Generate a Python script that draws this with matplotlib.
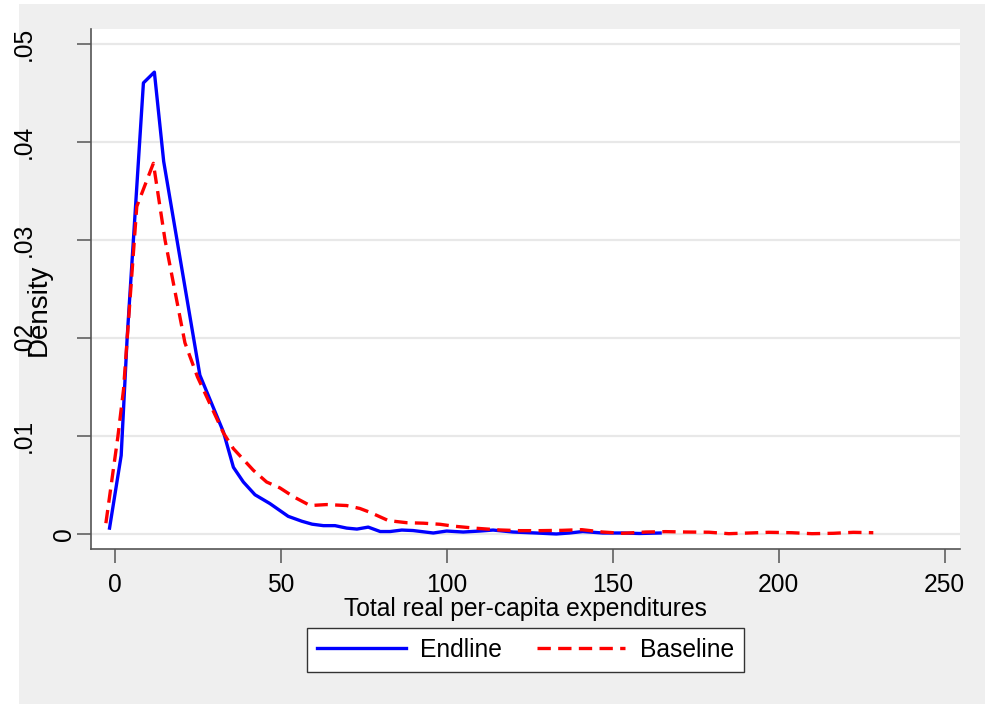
import matplotlib
matplotlib.use("Agg")
import matplotlib.pyplot as plt
from matplotlib.patches import Rectangle

plt.rcParams['font.family'] = ['Liberation Sans', 'DejaVu Sans']

# kernel density estimates
endline_x = [-1.5, 2.0, 3.8, 8.7, 12.0, 14.8, 25.7, 32.8, 35.8, 38.8, 42.3, 46.8,
             52.3, 56.4, 59.5, 62.9, 66.4, 69.9, 73.0, 76.4, 80.0, 83.0, 86.5,
             89.9, 96.0, 100.0, 105.0, 110.0, 114.0, 120.0, 127.0, 133.0, 137.0,
             141.0, 147.0, 153.0, 158.0, 164.3]
endline_y = [0.0006, 0.0080, 0.0200, 0.0460, 0.0471, 0.0380, 0.0162, 0.0104, 0.0068,
             0.0053, 0.0040, 0.0031, 0.0018, 0.0013, 0.0010, 0.00085, 0.00085,
             0.0006, 0.0005, 0.0007, 0.00025, 0.00025, 0.0004, 0.00035, 0.0001,
             0.0003, 0.0002, 0.0003, 0.0004, 0.0002, 0.0001, 0.0, 0.0001, 0.00025,
             0.0001, 0.0001, 0.00005, 0.0001]

baseline_x = [-2.6, 1.0, 2.7, 6.7, 11.7, 15.2, 21.2, 25.0, 32.8, 35.8, 41.8, 45.8,
              49.8, 53.9, 58.9, 63.9, 69.9, 73.9, 77.0, 82.5, 88.0, 93.0, 98.0,
              102.0, 109.0, 116.0, 122.0, 128.0, 134.7, 140.7, 147.0, 153.0, 160.0,
              166.0, 172.0, 179.0, 185.0, 191.0, 197.0, 204.0, 210.0, 216.5, 222.5,
              228.5]
baseline_y = [0.0011, 0.0099, 0.0147, 0.0334, 0.0378, 0.0300, 0.0195, 0.0160, 0.0103,
              0.0087, 0.0065, 0.0053, 0.0047, 0.0038, 0.0029, 0.0030, 0.0029, 0.0026,
              0.0022, 0.00136, 0.00115, 0.0011, 0.00099, 0.0008, 0.00058, 0.00041,
              0.00034, 0.00034, 0.00037, 0.00044, 0.0002, 0.00007, 0.0002, 0.00024,
              0.0002, 0.00018, 0.00003, 0.0001, 0.00017, 0.00013, 0.00003, 0.00007,
              0.00017, 0.00013]

xticks = [0, 50, 100, 150, 200, 250]
yticks = [0, 0.01, 0.02, 0.03, 0.04, 0.05]
ytick_labels = ['0', '.01', '.02', '.03', '.04', '.05']

fs = 17.7

fig = plt.figure(figsize=(9.85, 7.05), dpi=100, facecolor='white')
# stata style grey graph region
fig.patches.append(Rectangle((19 / 985, 1 / 705), 966 / 985, 700 / 705,
                             transform=fig.transFigure, facecolor='#efefef',
                             edgecolor='none', zorder=-10))

ax = fig.add_axes([0.0924, 0.2213, 0.8822, 0.7376])
ax.set_facecolor('white')

ax.plot(endline_x, endline_y, color='#0000ff', lw=2.4, label='Endline', zorder=3)
ax.plot(baseline_x, baseline_y, color='#ff0000', lw=2.4, dashes=(4.0, 2.2),
        label='Baseline', zorder=3)

ax.set_xlim(-7.08, 254.6)
ax.set_ylim(-0.00153, 0.0515)
ax.set_xticks(xticks)
ax.set_yticks(yticks)
ax.set_yticklabels([])
ax.grid(axis='y', color='#e8e8e8', lw=1.6, zorder=0)
ax.set_axisbelow(True)

for side in ['top', 'right']:
    ax.spines[side].set_visible(False)
for side in ['left', 'bottom']:
    ax.spines[side].set_color('#555555')
    ax.spines[side].set_linewidth(1.2)

ax.tick_params(axis='both', direction='out', length=10, width=1.1, color='#555555',
               labelsize=fs, pad=7)

# rotated y labels, placed like stata does
for val, lab in zip(yticks, ytick_labels):
    xpos = -0.0173 if lab == '0' else -0.0633
    ax.text(xpos, val, lab, transform=ax.get_yaxis_transform(), rotation=90,
            ha='right', va='center', fontsize=fs)

ax.set_xlabel('Total real per-capita expenditures', fontsize=fs, labelpad=0)
ax.set_ylabel('Density', fontsize=20)
ax.yaxis.set_label_coords(-0.0449, 0.46)

leg = ax.legend(loc='upper center', bbox_to_anchor=(0.5, -0.152), ncol=2,
                fontsize=fs, frameon=True, fancybox=False, edgecolor='#333333',
                framealpha=1, borderaxespad=0, handlelength=3.6,
                handletextpad=0.6, columnspacing=1.4, borderpad=0.4)
leg.get_frame().set_linewidth(1.0)

fig.savefig('out.png', dpi=100, facecolor='white')
